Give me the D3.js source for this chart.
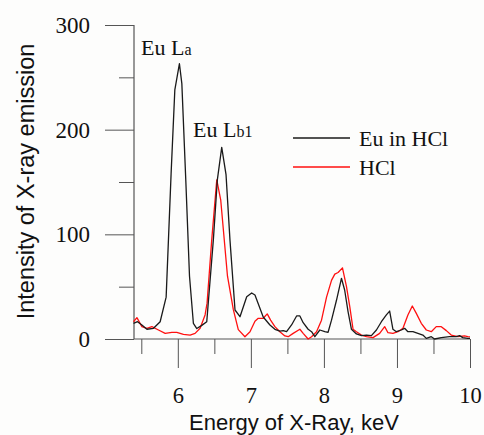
<!DOCTYPE html>
<html>
<head>
<meta charset="utf-8">
<script src="https://cdn.jsdelivr.net/npm/d3@7"></script>
<style>
  html, body { margin: 0; padding: 0; background: #ffffff; }
  svg { display: block; }
</style>
</head>
<body>
<div id="chart"></div>
<script>
// ---- data (keV, intensity) ----
const euEnergy = [5.393,5.448,5.508,5.577,5.667,5.758,5.840,5.908,5.959,6.022,6.055,6.110,6.160,6.213,6.260,6.328,6.396,6.486,6.541,6.601,6.660,6.714,6.783,6.851,6.943,7.011,7.056,7.115,7.169,7.261,7.329,7.397,7.443,7.489,7.557,7.626,7.671,7.716,7.784,7.831,7.876,7.944,8.012,8.057,8.104,8.172,8.240,8.284,8.331,8.377,8.445,8.514,8.582,8.650,8.719,8.787,8.855,8.900,8.945,8.992,9.060,9.105,9.150,9.219,9.287,9.355,9.402,9.470,9.515,9.607,9.720,9.811,9.857,9.902,9.970,10.0];
const euValues = [15,16.5,13.4,9.3,10.2,16.5,40,158,238,263,244,150,60,15,10,13,16.5,94.5,152,183,157,94.5,27.7,21.3,40.4,44,42,31,21,13.4,9.3,7.6,8,7,13.4,22,22,15.6,9.3,7,2.2,8.6,7,6.4,18,37,58,46.8,26,9.3,4.8,3.2,3.8,3.2,8.6,16.5,23,26.7,9.3,7,8.6,10.2,7,7,5.4,3.8,0.6,2.2,0,1.3,2.2,2.2,3.2,1.3,0.6,0.6];

const hclEnergy = [5.393,5.440,5.508,5.577,5.645,5.735,5.827,5.918,5.986,6.077,6.168,6.236,6.305,6.373,6.400,6.464,6.533,6.587,6.680,6.760,6.828,6.919,6.988,7.056,7.101,7.169,7.224,7.270,7.329,7.397,7.466,7.511,7.579,7.671,7.716,7.784,7.831,7.899,7.967,8.036,8.104,8.149,8.194,8.254,8.309,8.354,8.399,8.445,8.514,8.582,8.672,8.763,8.832,8.877,8.945,9.014,9.082,9.150,9.210,9.265,9.333,9.402,9.470,9.538,9.607,9.676,9.743,9.833,9.925,9.970,10.0];
const hclValues = [16.5,20.4,11.8,10.2,11.8,8.6,5.4,6.4,6.4,4.5,3.8,5.4,10.2,23,34,94.5,152,133,60,28,9,2.2,7,17,19.8,19.8,24,18,11.8,7,2.9,2.2,5.4,9.3,5.4,0,2.2,7,18,40,56,62,63.5,68,50,31,9.3,7,3.8,2.2,1.3,5.4,11.8,6,5.4,7,10.2,23,31.5,24.5,15,8.6,7,11.8,11.8,8,3.8,2.2,2.9,2.2,2];

const xMajorTicks = [6,7,8,9,10];
const xMinorTicks = [5.5,6.5,7.5,8.5,9.5];
const yMajorTicks = [0,100,200,300];
const yMinorTicks = [50,150,250];

const seriesNames = ["Eu in HCl", "HCl"];
const seriesColors = ["#1a1a1a", "#ff1010"];

// ---- layout ----
const W = 484, H = 435;
const svg = d3.select("#chart").append("svg").attr("width", W).attr("height", H);
svg.append("rect").attr("width", W).attr("height", H).attr("fill", "#fdfdfc");

const x = d3.scaleLinear().domain([5.4, 10]).range([134, 470]);
const y = d3.scaleLinear().domain([0, 300]).range([339, 25]);

const axisColor = "#555";
const serif = "'Liberation Serif','Times New Roman',serif";
const sans = "'Liberation Sans',Arial,sans-serif";

// x axis
const gx = svg.append("g").attr("transform", `translate(0,${y(0)})`);
gx.call(d3.axisBottom(x).tickValues(xMajorTicks).tickSize(29).tickPadding(19).tickFormat(d3.format("d")))
  .call(g => g.select(".domain").remove());
gx.selectAll("line").attr("stroke", axisColor).attr("stroke-width", 1);
gx.selectAll("text").attr("font-family", serif).attr("font-size", 22.5).attr("fill", "#111");
const gxm = svg.append("g").attr("transform", `translate(0,${y(0)})`);
gxm.call(d3.axisBottom(x).tickValues(xMinorTicks).tickSize(15).tickFormat(""))
  .call(g => g.select(".domain").remove());
gxm.selectAll("line").attr("stroke", axisColor).attr("stroke-width", 1);

// y axis
const gy = svg.append("g").attr("transform", `translate(${x(5.4)},0)`);
gy.call(d3.axisLeft(y).tickValues(yMajorTicks).tickSize(29).tickPadding(15).tickFormat(d3.format("d")))
  .call(g => g.select(".domain").remove());
gy.selectAll("line").attr("stroke", axisColor).attr("stroke-width", 1);
gy.selectAll("text").attr("font-family", serif).attr("font-size", 23).attr("fill", "#111");
const gym = svg.append("g").attr("transform", `translate(${x(5.4)},0)`);
gym.call(d3.axisLeft(y).tickValues(yMinorTicks).tickSize(15).tickFormat(""))
  .call(g => g.select(".domain").remove());
gym.selectAll("line").attr("stroke", axisColor).attr("stroke-width", 1);

// axis lines
svg.append("line").attr("x1", x(5.4)).attr("x2", x(10)).attr("y1", y(0)).attr("y2", y(0))
  .attr("stroke", axisColor).attr("stroke-width", 1.2);
svg.append("line").attr("x1", x(5.4)).attr("x2", x(5.4)).attr("y1", y(0)).attr("y2", y(300))
  .attr("stroke", axisColor).attr("stroke-width", 1.2);

// lines
const line = d3.line().x(d => x(d[0])).y(d => y(d[1]));
const euData = euEnergy.map((e, i) => [e, euValues[i]]);
const hclData = hclEnergy.map((e, i) => [e, hclValues[i]]);

svg.append("path").datum(hclData).attr("d", line).attr("fill", "none")
  .attr("stroke", seriesColors[1]).attr("stroke-width", 1.3).attr("stroke-linejoin", "round");
svg.append("path").datum(euData).attr("d", line).attr("fill", "none")
  .attr("stroke", seriesColors[0]).attr("stroke-width", 1.3).attr("stroke-linejoin", "round");

// annotations
const t1 = svg.append("text").attr("x", 141).attr("y", 55).attr("font-family", serif).attr("font-size", 22).attr("fill", "#111");
t1.append("tspan").text("Eu L");
t1.append("tspan").attr("font-size", 16).text("a");
const t2 = svg.append("text").attr("x", 193).attr("y", 137).attr("font-family", serif).attr("font-size", 22).attr("fill", "#111");
t2.append("tspan").text("Eu L");
t2.append("tspan").attr("font-size", 16).text("b1");

// legend
seriesNames.forEach((name, i) => {
  const ly = 138 + i * 29;
  svg.append("line").attr("x1", 293).attr("x2", 350).attr("y1", ly).attr("y2", ly)
    .attr("stroke", seriesColors[i]).attr("stroke-width", 1.3);
  svg.append("text").attr("x", 359).attr("y", ly + 8).attr("font-family", serif)
    .attr("font-size", 22).attr("fill", "#111").text(name);
});

// axis titles
svg.append("text").attr("x", 294).attr("y", 430).attr("text-anchor", "middle")
  .attr("font-family", sans).attr("font-size", 22).attr("fill", "#111").text("Energy of X-Ray, keV");
svg.append("text").attr("transform", `translate(34,181.5) rotate(-90)`).attr("text-anchor", "middle")
  .attr("font-family", sans).attr("font-size", 23.5).attr("fill", "#111").text("Intensity of X-ray emission");
</script>
</body>
</html>
